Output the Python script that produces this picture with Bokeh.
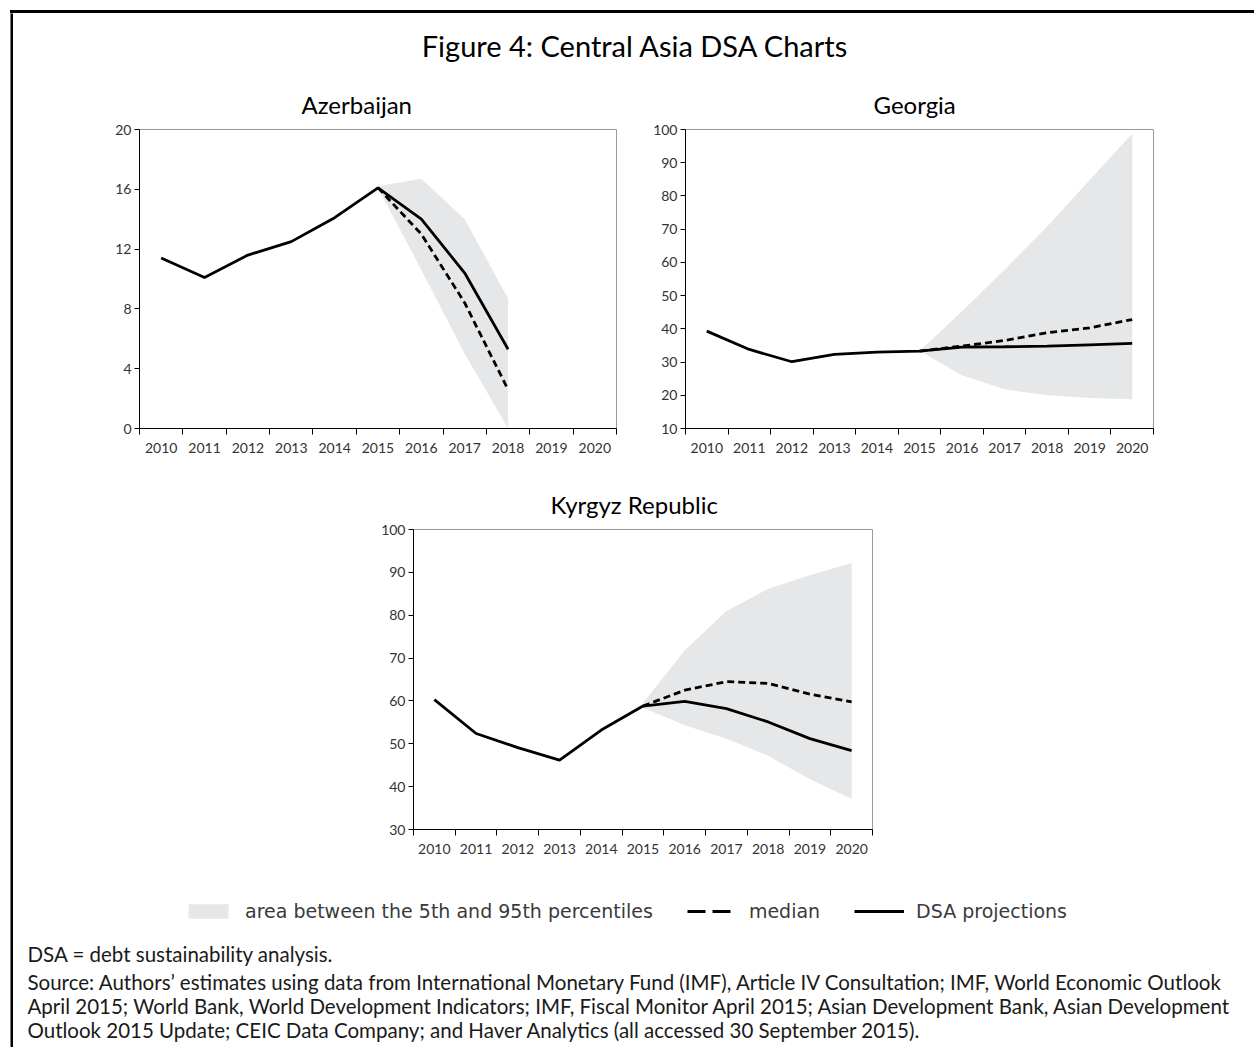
from bokeh.plotting import figure
from bokeh.layouts import column, row
from bokeh.models import Spacer, FixedTicker, Range1d, Legend, LegendItem, Div
from bokeh.core.properties import value
from bokeh.embed import file_html
from bokeh.resources import INLINE

# ---------------- data ----------------
years = [2010, 2011, 2012, 2013, 2014, 2015, 2016, 2017, 2018, 2019, 2020]
year_labels = ["2010", "2011", "2012", "2013", "2014", "2015", "2016", "2017", "2018", "2019", "2020"]

az_years = [2010, 2011, 2012, 2013, 2014, 2015, 2016, 2017, 2018]
az_dsa = [11.4, 10.1, 11.6, 12.5, 14.1, 16.1, 14.0, 10.4, 5.3]
az_proj_years = [2015, 2016, 2017, 2018]
az_median = [16.1, 13.0, 8.4, 2.6]
az_p95 = [16.2, 16.7, 14.0, 8.7]
az_p5 = [16.1, 10.6, 5.0, 0.0]
az_yticks = [0, 4, 8, 12, 16, 20]

ge_years = years
ge_dsa = [39.3, 33.8, 30.1, 32.3, 33.0, 33.3, 34.5, 34.6, 34.8, 35.2, 35.6]
ge_proj_years = [2015, 2016, 2017, 2018, 2019, 2020]
ge_median = [33.3, 34.8, 36.5, 38.8, 40.3, 42.8]
ge_p95 = [33.3, 45.3, 57.8, 70.8, 84.8, 98.8]
ge_p5 = [33.3, 26.0, 21.8, 20.0, 19.2, 18.8]
ge_yticks = [10, 20, 30, 40, 50, 60, 70, 80, 90, 100]

kg_years = years
kg_dsa = [60.3, 52.4, 49.1, 46.2, 53.2, 58.8, 59.9, 58.2, 55.1, 51.2, 48.4]
kg_proj_years = [2015, 2016, 2017, 2018, 2019, 2020]
kg_median = [58.8, 62.5, 64.5, 64.1, 61.6, 59.8]
kg_p95 = [59.5, 71.8, 81.0, 86.2, 89.3, 92.2]
kg_p5 = [58.4, 54.3, 51.2, 47.2, 41.7, 37.2]
kg_yticks = [30, 40, 50, 60, 70, 80, 90, 100]

main_title = "Figure 4: Central Asia DSA Charts"
legend_labels = ["area between the 5th and 95th percentiles", "median", "DSA projections"]
notes = [
    "DSA = debt sustainability analysis.",
    "Source: Authors\u2019 estimates using data from International Monetary Fund (IMF),  Article IV Consultation; IMF, World Economic Outlook",
    "April 2015; World Bank, World Development Indicators; IMF, Fiscal Monitor April 2015;  Asian Development Bank, Asian Development",
    "Outlook 2015 Update; CEIC Data Company; and Haver Analytics (all accessed 30 September 2015).",
]

FONT = "Lato"
BAND = "#e6e7e8"
INK = "#1a1a1a"


def bar(w, h):
    f = figure(width=w, height=h, toolbar_location=None, output_backend="svg",
               min_border=0, x_axis_type=None, y_axis_type=None,
               outline_line_color=None, background_fill_color="black",
               border_fill_color="black")
    f.grid.visible = False
    return f


def panel(title, title_offset, width, height, mb, yr, yticks, hist_x, dsa, proj_x, med, p5, p95):
    p = figure(width=width, height=height, toolbar_location=None, output_backend="svg",
               x_range=Range1d(years[0] - 0.5, years[-1] + 0.5),
               y_range=Range1d(yr[0], yr[1]),
               min_border_left=mb[0], min_border_right=mb[1],
               min_border_top=mb[2], min_border_bottom=mb[3],
               title=title)
    p.title.text_font = FONT
    p.title.text_font_size = "24px"
    p.title.text_font_style = "normal"
    p.title.text_color = "black"
    p.title.align = "left"
    p.title.offset = title_offset
    p.title.standoff = 21
    p.grid.visible = False
    p.outline_line_color = "#9a9a9a"
    p.outline_line_width = 1
    p.background_fill_color = "white"
    p.border_fill_color = "white"

    p.varea(x=proj_x, y1=p5, y2=p95, fill_color=BAND, fill_alpha=1)
    p.line(proj_x, med, line_color="black", line_width=2.8, line_dash="7 4")
    p.line(hist_x, dsa, line_color="black", line_width=2.8)

    xa = p.xaxis[0]
    xa.ticker = FixedTicker(ticks=years,
                            minor_ticks=[y - 0.5 for y in years] + [years[-1] + 0.5])
    xa.major_label_overrides = {y: l for y, l in zip(years, year_labels)}
    xa.major_tick_line_color = None
    xa.major_tick_out = 6
    xa.major_tick_in = 0
    xa.minor_tick_line_color = "black"
    xa.minor_tick_out = 6
    xa.minor_tick_in = 0
    xa.major_label_standoff = 8
    ya = p.yaxis[0]
    ya.ticker = FixedTicker(ticks=yticks, minor_ticks=[])
    ya.major_tick_out = 5
    ya.major_tick_in = 0
    ya.major_label_standoff = 3
    for a in (xa, ya):
        a.axis_line_color = "black"
        a.axis_line_width = 1
        a.major_label_text_font = FONT
        a.major_label_text_font_size = "14px"
        a.major_label_text_color = "#333333"
    return p


W = 1233

# header
head = figure(width=W, height=60, toolbar_location=None, output_backend="svg",
              x_range=Range1d(0, W), y_range=Range1d(0, 60), min_border=0,
              x_axis_type=None, y_axis_type=None, outline_line_color=None)
head.grid.visible = False
head.text(x=[622], y=[28], text=[main_title], text_font=value(FONT),
          text_font_size="29px", text_align="center", text_baseline="middle",
          text_color="black")

p_az = panel("Azerbaijan", 162, 637, 397, (126, 34, 55, 42), (0, 20), az_yticks,
             az_years, az_dsa, az_proj_years, az_median, az_p5, az_p95)
p_ge = panel("Georgia", 188, 596, 397, (33, 93, 56, 41), (10, 100), ge_yticks,
             ge_years, ge_dsa, ge_proj_years, ge_median, ge_p5, ge_p95)
p_kg = panel("Kyrgyz Republic", 137, 549, 400, (50, 40, 59, 41), (30, 100), kg_yticks,
             kg_years, kg_dsa, kg_proj_years, kg_median, kg_p5, kg_p95)

# legend (renderers carry dummy data outside the visible range)
leg = figure(width=W, height=65, toolbar_location=None, output_backend="svg",
             x_range=Range1d(0, 1), y_range=Range1d(0, 1), min_border=0,
             x_axis_type=None, y_axis_type=None, outline_line_color=None)
leg.grid.visible = False
r_band = leg.varea(x=[5, 6], y1=[5, 5], y2=[6, 6], fill_color=BAND)
r_med = leg.line(x=[5, 6], y=[5, 6], line_color="black", line_width=3, line_dash="18 7 18 100")
r_dsa = leg.line(x=[5, 6], y=[5, 6], line_color="black", line_width=3)
legend = Legend(items=[LegendItem(label=legend_labels[0], renderers=[r_band]),
                       LegendItem(label=legend_labels[1], renderers=[r_med]),
                       LegendItem(label=legend_labels[2], renderers=[r_dsa])],
                orientation="horizontal", location=(170, 13),
                glyph_width=50, glyph_height=18, label_standoff=12, spacing=34,
                padding=0, margin=0, border_line_color=None,
                background_fill_alpha=0, label_text_font="DejaVu Sans",
                label_text_font_size="19px", label_text_color="#3a3a3a")
leg.add_layout(legend, "center")

# notes
nt = figure(width=W, height=112, toolbar_location=None, output_backend="svg",
            x_range=Range1d(0, W), y_range=Range1d(0, 112), min_border=0,
            x_axis_type=None, y_axis_type=None, outline_line_color=None)
nt.grid.visible = False
nt.text(x=[14] * len(notes), y=[94, 66, 42, 18], text=notes, text_font=value(FONT),
        text_font_size="20.5px", text_align="left", text_baseline="middle",
        text_color=INK)

content = column(
    head,
    row(p_az, p_ge),
    row(Spacer(width=350, height=400), p_kg),
    leg,
    nt,
)

top_bar = Div(text="", width=1244, height=3, margin=0,
              styles={"background-color": "black"})

root = column(
    Spacer(width=1254, height=10),
    row(Spacer(width=10, height=3), top_bar),
    row(Spacer(width=10, height=1034), bar(3, 1034), content),
)

open("out.html", "w").write(file_html(root, INLINE))
